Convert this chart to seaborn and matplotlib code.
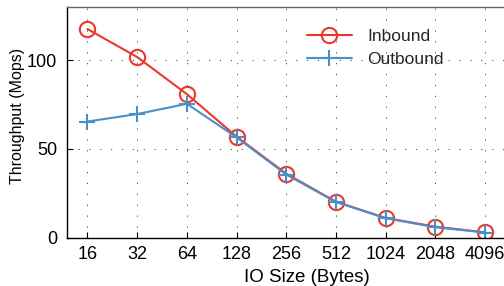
import numpy as np
import pandas as pd
import matplotlib
matplotlib.use("Agg")
import matplotlib.pyplot as plt
import seaborn as sns

io_sizes = ["16", "32", "64", "128", "256", "512", "1024", "2048", "4096"]
inbound = [117.6, 101.8, 80.9, 56.9, 36.0, 20.2, 11.0, 6.1, 2.9]
outbound = [65.4, 69.6, 75.4, 56.5, 35.5, 20.0, 10.9, 5.8, 2.8]

sns.set_theme(style="white")
plt.rcParams["font.family"] = ["Liberation Sans", "DejaVu Sans"]

red = "#e8392b"
blue = "#4a90c8"

fig = plt.figure(figsize=(5.04, 2.86), dpi=100)
ax = fig.add_axes([67 / 504, 1 - 237.5 / 286, 1 - 67 / 504 + 0.01, (237.5 - 7) / 286])

pos = np.arange(len(io_sizes))
df = pd.DataFrame({"pos": pos, "Inbound": inbound, "Outbound": outbound})

sns.lineplot(data=df, x="pos", y="Inbound", ax=ax, color=red, lw=1.5,
             marker="o", markersize=11, markerfacecolor="none",
             markeredgecolor=red, markeredgewidth=1.5, label="Inbound")
sns.lineplot(data=df, x="pos", y="Outbound", ax=ax, color=blue, lw=1.5,
             marker="+", markersize=11, markeredgewidth=1.5,
             markeredgecolor=blue, label="Outbound")

ax.set_xlim(-0.41, 8.38 + 0.01 * 504 / 49.75)
ax.set_ylim(0, 130)
ax.set_xticks(pos)
ax.set_xticklabels(io_sizes)
ax.set_yticks([0, 50, 100])
ax.grid(True, linestyle=(0, (1.2, 10)), color="#444444", linewidth=0.7)
ax.set_axisbelow(True)

for s in ["left", "bottom", "top"]:
    ax.spines[s].set_color("black")
    ax.spines[s].set_linewidth(1.0)
ax.spines["top"].set_color("#666666")
ax.spines["right"].set_visible(False)

ax.tick_params(axis="both", direction="in", length=4, width=0.8, color="black",
               labelsize=13, bottom=True, left=True, labelcolor="black")
ax.tick_params(axis="x", pad=6)
ax.tick_params(axis="y", pad=7)
ax.set_xlabel("IO Size (Bytes)", fontsize=13.5, labelpad=3, color="black")
ax.xaxis.set_label_coords(0.543, -0.135)
ax.set_ylabel("Throughput (Mops)", fontsize=11.5, color="black")
ax.yaxis.set_label_coords(-0.095, 0.527)

leg = ax.legend(loc="upper left", bbox_to_anchor=(0.527, 0.936), frameon=False,
                fontsize=12.5, handlelength=2.6, handletextpad=0.86,
                labelspacing=0.45, borderaxespad=0)

fig.savefig("out.png", dpi=100)
